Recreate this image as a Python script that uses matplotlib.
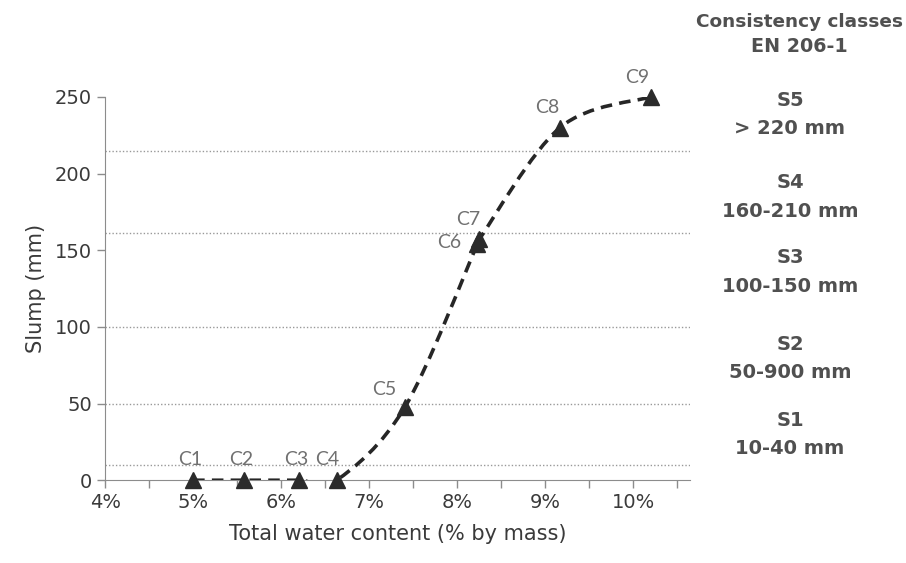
import numpy as np
import matplotlib
matplotlib.use("Agg")
import matplotlib.pyplot as plt
from matplotlib.path import Path
from matplotlib.patches import PathPatch
from matplotlib.ticker import FuncFormatter, MultipleLocator

# mixes and measured slump
labels = ["C1", "C2", "C3", "C4", "C5", "C6", "C7", "C8", "C9"]
water = [5.0, 5.58, 6.2, 6.63, 7.41, 8.23, 8.25, 9.17, 10.2]
slump = [0, 0, 0, 0, 48, 154, 157, 230, 250]
label_offsets = [(-2, 9), (-2, 9), (-2, 9), (-7, 9), (-15, 6), (-20, -5), (-8, 8), (-9, 8), (-10, 8)]

# class boundaries and texts on the right
class_lines = [10, 50, 100, 161, 215]
class_names = ["S5", "S4", "S3", "S2", "S1"]
class_ranges = ["> 220 mm", "160-210 mm", "100-150 mm", "50-900 mm", "10-40 mm"]
class_ypos = [100, 183, 258, 345, 420]

plt.rcParams["font.family"] = ["DejaVu Sans"]
txt = "#3a3a3a"
grey = "#8c8c8c"

fig = plt.figure(figsize=(9.06, 5.63), dpi=100)
ax = fig.add_axes([0.116, 0.147, 0.646, 0.681])

for yv in class_lines:
    ax.axhline(yv, color="#999999", lw=1, ls=(0, (1, 1.5)), zorder=1)

# smoothed curve (Catmull-Rom -> cubic Bezier, like a spreadsheet smoothed line)
pts = np.column_stack([water, slump]).astype(float)
verts = [pts[0]]
codes = [Path.MOVETO]
n = len(pts)
for i in range(n - 1):
    p0 = pts[i - 1] if i > 0 else pts[i]
    p1 = pts[i]
    p2 = pts[i + 1]
    p3 = pts[i + 2] if i + 2 < n else pts[i + 1]
    c1 = p1 + (p2 - p0) / 6
    c2 = p2 - (p3 - p1) / 6
    verts += [c1, c2, p2]
    codes += [Path.CURVE4] * 3
curve = PathPatch(Path(verts, codes), fill=False, edgecolor="#262626", lw=2.6,
                  ls=(0, (3.2, 2.0)), zorder=3)
ax.add_patch(curve)

ax.plot(water, slump, ls="none", marker="^", ms=12, color="#2b2b2b", zorder=4, clip_on=False)
for lab, x, y, off in zip(labels, water, slump, label_offsets):
    ax.annotate(lab, (x, y), xytext=off, textcoords="offset points", ha="center",
                va="bottom", fontsize=14, color="#707070", family=["Lato", "DejaVu Sans"])

ax.set_xlim(4, 10.65)
ax.set_ylim(0, 250)
ax.set_xticks(range(4, 11))
ax.xaxis.set_minor_locator(MultipleLocator(0.5))
ax.xaxis.set_major_formatter(FuncFormatter(lambda v, p: f"{v:.0f}%"))
ax.set_yticks(range(0, 251, 50))
for s in ["top", "right"]:
    ax.spines[s].set_visible(False)
for s in ["left", "bottom"]:
    ax.spines[s].set_color(grey)
ax.tick_params(colors=grey, labelcolor=txt, labelsize=14, length=6, width=1)
ax.tick_params(axis="x", which="minor", colors=grey, length=6, width=1)
ax.set_xlabel("Total water content (% by mass)", fontsize=15, color=txt, labelpad=8)
ax.set_ylabel("Slump (mm)", fontsize=15, color=txt, labelpad=6)

W, H = 906, 563
fig.text(799 / W, 1 - 22 / H, "Consistency classes", ha="center", va="center",
         fontsize=13.3, fontweight="bold", color="#505050")
fig.text(799 / W, 1 - 47 / H, "EN 206-1", ha="center", va="center",
         fontsize=13.8, fontweight="bold", color="#505050")
for name, rng, yp in zip(class_names, class_ranges, class_ypos):
    fig.text(790 / W, 1 - yp / H, name, ha="center", va="center",
             fontsize=14, fontweight="bold", color="#505050")
    fig.text(790 / W, 1 - (yp + 28) / H, rng, ha="center", va="center",
             fontsize=14, fontweight="bold", color="#505050")

fig.savefig("out.png", dpi=100)
